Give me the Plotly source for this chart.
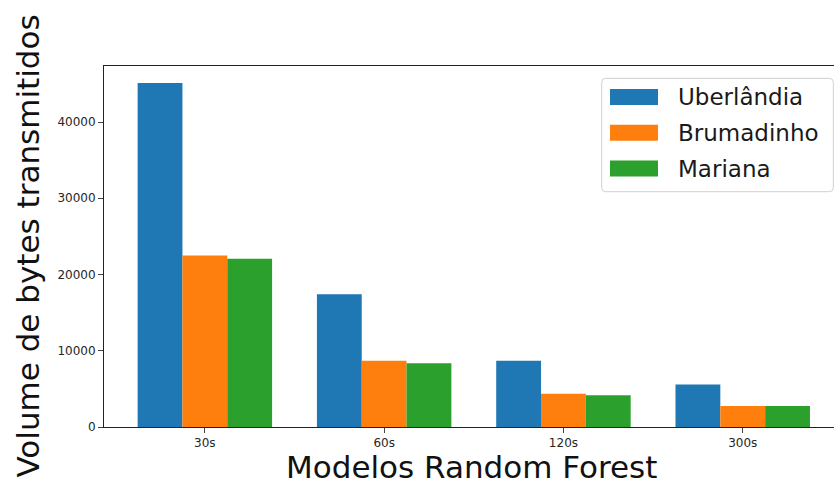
import plotly.graph_objects as go

# Bytes transmitted per Random Forest model window, for each city
modelos = ["30s", "60s", "120s", "300s"]
cidades = ["Uberlândia", "Brumadinho", "Mariana"]
uberlandia = [45100, 17400, 8700, 5560]
brumadinho = [22480, 8700, 4370, 2750]
mariana = [22080, 8350, 4160, 2750]
cores = ["#1f77b4", "#ff7f0e", "#2ca02c"]
y_ticks = [0, 10000, 20000, 30000, 40000]

series = [uberlandia, brumadinho, mariana]

W, H = 835, 485
L, R, T, B = 104, 1, 66, 58
PW, PH = W - L - R, H - T - B


def px(x):
    return (x - L) / PW


def py(y):
    return (H - B - y) / PH


fig = go.Figure()
for nome, valores, cor in zip(cidades, series, cores):
    fig.add_trace(go.Bar(
        x=modelos, y=valores, name=nome,
        marker=dict(color=cor, line=dict(width=0)),
        showlegend=False,
    ))

fig.update_layout(
    width=W, height=H,
    margin=dict(l=L, r=R, t=T, b=B, pad=0),
    paper_bgcolor="white", plot_bgcolor="white",
    barmode="group", bargap=0.25, bargroupgap=0,
    font=dict(family="DejaVu Sans", color="#262626"),
)
fig.update_xaxes(
    type="category", range=[-0.5625, 3.509],
    showline=True, linecolor="#222", linewidth=1, mirror=True,
    showgrid=False, zeroline=False,
    ticks="outside", ticklen=5, tickcolor="#444", tickwidth=1,
    tickfont=dict(size=12, color="#262626"),
)
fig.update_yaxes(
    range=[0, 47344],
    showline=True, linecolor="#222", linewidth=1, mirror=False,
    showgrid=False, zeroline=False,
    tickvals=y_ticks, ticktext=[str(v) for v in y_ticks],
    ticks="outside", ticklen=5, tickcolor="#444", tickwidth=1,
    tickfont=dict(size=12, color="#262626"),
)

# Axis titles
fig.add_annotation(
    text="Modelos Random Forest", xref="paper", yref="paper",
    x=px(471), y=py(467), xanchor="center", yanchor="middle",
    showarrow=False, font=dict(size=31, color="#111"),
)
fig.add_annotation(
    text="Volume de bytes transmitidos", xref="paper", yref="paper",
    x=px(27), y=py(246.5), xanchor="center", yanchor="middle",
    textangle=-90, showarrow=False, font=dict(size=31, color="#111"),
)

# Legend box with rounded corners
x0, x1, y0, y1, r = px(601.7), px(833.3), py(78.3), py(191.7), 4
rx, ry = r / PW, r / PH
path = (
    f"M {x0 + rx},{y0} L {x1 - rx},{y0} Q {x1},{y0} {x1},{y0 - ry} "
    f"L {x1},{y1 + ry} Q {x1},{y1} {x1 - rx},{y1} "
    f"L {x0 + rx},{y1} Q {x0},{y1} {x0},{y1 + ry} "
    f"L {x0},{y0 - ry} Q {x0},{y0} {x0 + rx},{y0} Z"
)
fig.add_shape(type="path", path=path, xref="paper", yref="paper",
              fillcolor="rgba(255,255,255,0.8)",
              line=dict(color="#d0d0d0", width=1))

for i, (nome, cor) in enumerate(zip(cidades, cores)):
    cy = 97 + i * 35.8
    fig.add_shape(type="rect", xref="paper", yref="paper",
                  x0=px(610), x1=px(658), y0=py(cy - 8), y1=py(cy + 8),
                  fillcolor=cor, line=dict(width=0))
    fig.add_annotation(text=nome, xref="paper", yref="paper",
                       x=px(676), y=py(cy), xanchor="left", yanchor="middle",
                       showarrow=False, font=dict(size=23, color="#1a1a1a"))

fig.write_html("out.html")
